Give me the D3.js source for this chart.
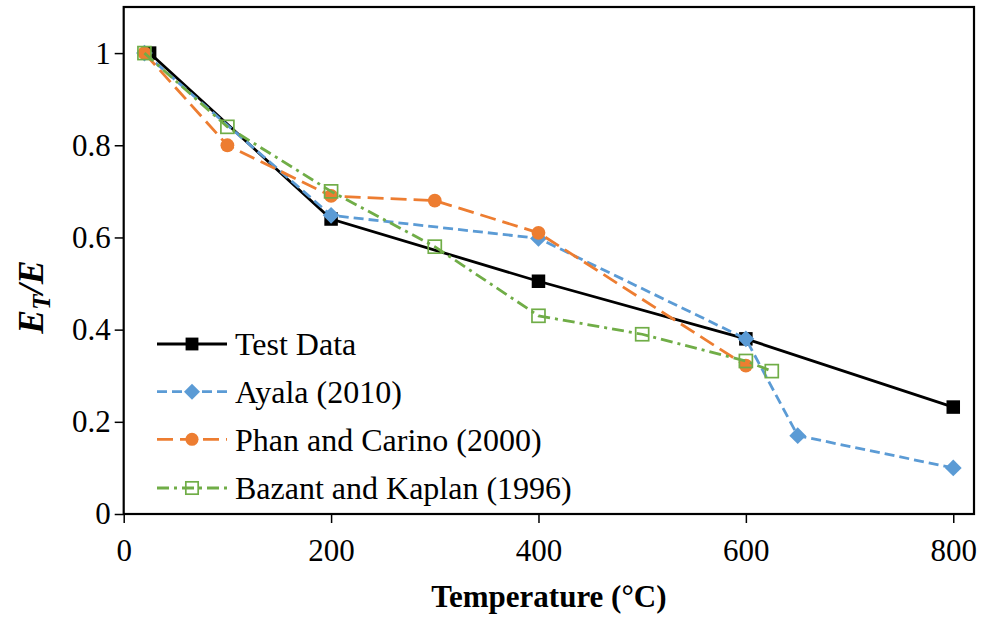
<!DOCTYPE html>
<html>
<head>
<meta charset="utf-8">
<script src="https://cdn.jsdelivr.net/npm/d3@7"></script>
<style>
  html, body { margin: 0; padding: 0; background: #fff; }
  svg { display: block; }
  text { font-family: "Liberation Serif", "Times New Roman", serif; }
</style>
</head>
<body>
<svg id="chart" width="981" height="617"></svg>
<script>
// ---- data ----
const testX = [25, 200, 400, 600, 800];
const testY = [1.0, 0.64, 0.505, 0.38, 0.232];

const ayalaX = [20, 200, 400, 600, 650, 800];
const ayalaY = [1.0, 0.648, 0.598, 0.38, 0.17, 0.1];

const phanX = [20, 100, 200, 300, 400, 600];
const phanY = [1.0, 0.80, 0.69, 0.68, 0.61, 0.322];

const bazantX = [20, 100, 200, 300, 400, 500, 600, 625];
const bazantY = [1.0, 0.84, 0.70, 0.58, 0.43, 0.39, 0.332, 0.31];

const xTicks = [0, 200, 400, 600, 800];
const yTicks = [0, 0.2, 0.4, 0.6, 0.8, 1];

const seriesNames = ["Test Data", "Ayala (2010)", "Phan and Carino (2000)", "Bazant and Kaplan (1996)"];

// ---- layout ----
const svg = d3.select("#chart");
const L = 123.7, R = 974, T = 7, B = 514;
const x = d3.scaleLinear().domain([0, 820]).range([L, R]);
const y = d3.scaleLinear().domain([0, 1.1]).range([B, T]);

const series = [
  { name: seriesNames[0], xs: testX, ys: testY, color: "#000000", dash: null, marker: "square", width: 2.8 },
  { name: seriesNames[1], xs: ayalaX, ys: ayalaY, color: "#5B9BD5", dash: "10,5", marker: "diamond", width: 2.8 },
  { name: seriesNames[2], xs: phanX, ys: phanY, color: "#ED7D31", dash: "16,7", marker: "circle", width: 2.8 },
  { name: seriesNames[3], xs: bazantX, ys: bazantY, color: "#70AD47", dash: "12,5,3,5", marker: "open", width: 2.8 }
];

// axes
const yAxis = d3.axisLeft(y).tickValues(yTicks).tickSize(9).tickPadding(4)
  .tickFormat(d => d === 0 ? "0" : (d === 1 ? "1" : d3.format(".1f")(d)));
const gy = svg.append("g").attr("transform", `translate(${L},0)`).call(yAxis);
gy.select(".domain").remove();
gy.selectAll(".tick line").attr("stroke", "#000").attr("stroke-width", 1.5);
gy.selectAll(".tick text").attr("font-size", 31).attr("fill", "#000")
  .attr("font-family", "Liberation Serif");

const xAxis = d3.axisBottom(x).tickValues(xTicks).tickSize(9).tickPadding(16);
const gx = svg.append("g").attr("transform", `translate(0,${B})`).call(xAxis);
gx.select(".domain").remove();
gx.selectAll(".tick line").attr("stroke", "#000").attr("stroke-width", 1.5);
gx.selectAll(".tick text").attr("font-size", 31).attr("fill", "#000")
  .attr("font-family", "Liberation Serif");

// frame
svg.append("rect").attr("x", L).attr("y", T).attr("width", R - L).attr("height", B - T)
  .attr("fill", "none").attr("stroke", "#000").attr("stroke-width", 2.2);

// markers
function drawMarker(g, type, cx, cy, color, scale) {
  const s = scale || 1;
  if (type === "square") {
    const a = 13.5 * s;
    g.append("rect").attr("x", cx - a / 2).attr("y", cy - a / 2).attr("width", a).attr("height", a).attr("fill", color);
  } else if (type === "diamond") {
    const a = 8.4 * s;
    g.append("path").attr("d", `M${cx},${cy - a}L${cx + a},${cy}L${cx},${cy + a}L${cx - a},${cy}Z`).attr("fill", color);
  } else if (type === "circle") {
    g.append("circle").attr("cx", cx).attr("cy", cy).attr("r", 6.9 * s).attr("fill", color);
  } else if (type === "open") {
    const a = 13 * s;
    g.append("rect").attr("x", cx - a / 2).attr("y", cy - a / 2).attr("width", a).attr("height", a)
      .attr("fill", "none").attr("stroke", color).attr("stroke-width", 1.7);
  }
}

const line = d3.line().x(d => x(d[0])).y(d => y(d[1]));
series.forEach(s => {
  const g = svg.append("g");
  const pts = s.xs.map((v, i) => [v, s.ys[i]]);
  g.append("path").attr("d", line(pts)).attr("fill", "none").attr("stroke", s.color)
    .attr("stroke-width", s.width).attr("stroke-dasharray", s.dash);
  pts.forEach(p => drawMarker(g, s.marker, x(p[0]), y(p[1]), s.color));
});

// legend
const legY = [344, 391.7, 439.3, 488];
series.forEach((s, i) => {
  const g = svg.append("g");
  const yy = legY[i];
  g.append("line").attr("x1", 157).attr("x2", 227).attr("y1", yy).attr("y2", yy)
    .attr("stroke", s.color).attr("stroke-width", s.width).attr("stroke-dasharray", s.dash);
  drawMarker(g, s.marker, 192, yy, s.color, 0.95);
  g.append("text").attr("x", 235).attr("y", yy).attr("dy", "0.35em")
    .attr("font-size", 32).attr("fill", "#000").text(s.name);
});

// axis titles
svg.append("text").attr("x", (L + R) / 2).attr("y", 607).attr("text-anchor", "middle")
  .attr("font-size", 31).attr("font-weight", "bold").attr("fill", "#000").text("Temperature (°C)");

const yt = svg.append("text").attr("transform", "translate(43,297) rotate(-90)")
  .attr("text-anchor", "middle").attr("font-size", 36).attr("font-weight", "bold")
  .attr("font-style", "italic").attr("fill", "#000");
yt.append("tspan").text("E");
yt.append("tspan").attr("font-size", 25).attr("dy", 7).text("T");
yt.append("tspan").attr("dy", -7).text("/E");
</script>
</body>
</html>
